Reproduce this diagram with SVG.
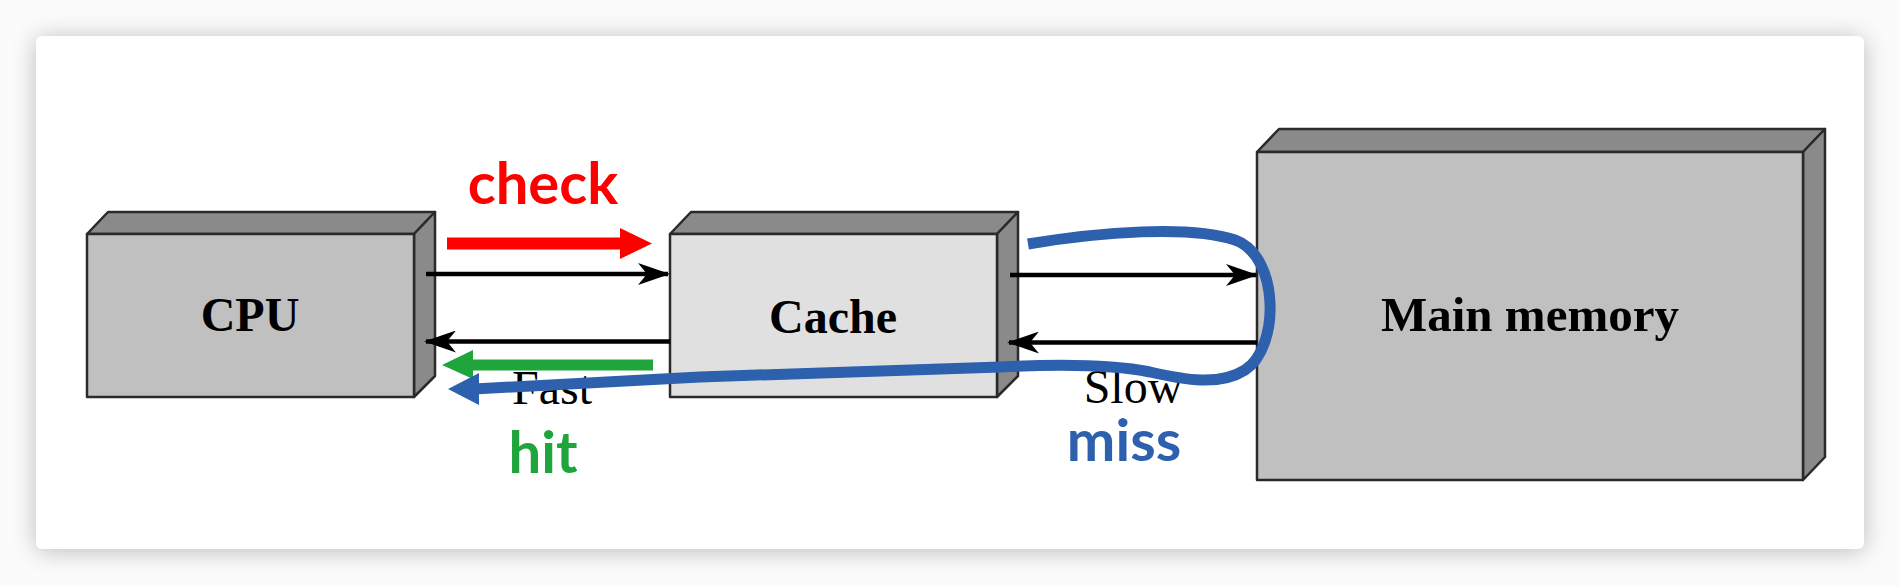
<svg xmlns="http://www.w3.org/2000/svg" width="1900" height="586" viewBox="0 0 1900 586">
<defs>
<filter id="shadow" x="-5%" y="-10%" width="110%" height="120%">
<feGaussianBlur stdDeviation="12"/>
</filter>
<marker id="blackhead" viewBox="0 0 32 22" refX="30" refY="11" markerWidth="32" markerHeight="22" markerUnits="userSpaceOnUse" orient="auto">
<path d="M32 11 L0 0 L9 11 L0 22 Z" fill="#000"/>
</marker>
</defs>
<style>
.face{stroke:#2a2a2a;stroke-width:2.5;stroke-linejoin:round}
.dark{fill:#8a8a8a}
.mid{fill:#c0c0c0}
.light{fill:#e0e0e0}
.lbl{font-family:"Liberation Serif","Times New Roman",serif;font-weight:bold;font-size:48px;fill:#000;text-anchor:middle}
.spd{font-family:"Liberation Serif","Times New Roman",serif;font-size:48px;fill:#000;text-anchor:middle}
.note{font-family:Lato,"Open Sans",sans-serif;font-weight:bold;font-size:58px;text-anchor:middle}
.blk{stroke:#000;stroke-width:4.5;fill:none}
</style>
<rect x="0" y="0" width="1900" height="586" fill="#fbfbfb"/>
<rect x="36" y="38" width="1828" height="513" rx="6" fill="#8f8f8f" opacity="0.6" filter="url(#shadow)"/>
<rect x="36" y="36" width="1828" height="513" rx="6" fill="#ffffff"/>

<g id="cpu">
<polygon class="face dark" points="87,234 108,212 435,212 414,234"/>
<polygon class="face dark" points="414,234 435,212 435,376 414,397"/>
<rect class="face mid" x="87" y="234" width="327" height="163"/>
<text class="lbl" x="250" y="331">CPU</text>
</g>

<g id="cache">
<polygon class="face dark" points="670,234 691,212 1018,212 997,234"/>
<polygon class="face dark" points="997,234 1018,212 1018,376 997,397"/>
<rect class="face light" x="670" y="234" width="327" height="163"/>
<text class="lbl" x="833" y="333">Cache</text>
</g>

<g id="main-memory">
<polygon class="face dark" points="1257,152 1279,129 1825,129 1803,152"/>
<polygon class="face dark" points="1803,152 1825,129 1825,457 1803,480"/>
<rect class="face mid" x="1257" y="152" width="546" height="328"/>
<text class="lbl" x="1530" y="331" style="font-size:49px">Main memory</text>
</g>

<g id="labels">
<text class="spd" x="552" y="404">Fast</text>
<text class="spd" x="1133" y="403">Slow</text>
<text class="note" x="543" y="204" fill="#ff0000">check</text>
<text class="note" x="543" y="473" fill="#1fa53b">hit</text>
<text class="note" x="1124" y="461" fill="#2d60ad">miss</text>
</g>

<g id="connectors">
<line class="blk" x1="426" y1="274" x2="668" y2="274" marker-end="url(#blackhead)"/>
<line class="blk" x1="670" y1="341.5" x2="426" y2="341.5" marker-end="url(#blackhead)"/>
<line class="blk" x1="1010" y1="275" x2="1256" y2="275" marker-end="url(#blackhead)"/>
<line class="blk" x1="1257" y1="342.5" x2="1009" y2="342.5" marker-end="url(#blackhead)"/>

<line x1="447" y1="243.5" x2="624" y2="243.5" stroke="#ff0000" stroke-width="12"/>
<polygon points="652,243.5 620,228 620,259" fill="#ff0000"/>

<line x1="653" y1="365" x2="470" y2="365" stroke="#1fa53b" stroke-width="11"/>
<polygon points="442,365 473,350 473,379" fill="#1fa53b"/>

<path d="M1028 244 C1100 232 1190 225 1235 240 C1280 256 1280 348 1245 370 C1220 386 1185 380 1150 372 C1110 364 1060 364 1000 367 L700 377 L474 389" fill="none" stroke="#2d60ad" stroke-width="11" stroke-linecap="butt"/>
<polygon points="448,389 479,373 479,405" fill="#2d60ad"/>
</g>
</svg>
